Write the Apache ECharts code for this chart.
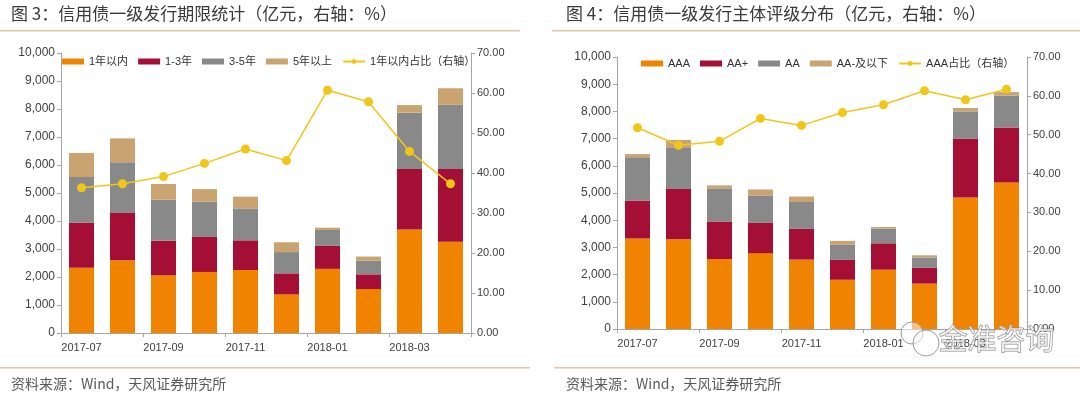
<!DOCTYPE html>
<html><head><meta charset="utf-8">
<script src="https://cdn.jsdelivr.net/npm/echarts@6/dist/echarts.min.js"></script>
<style>html,body{margin:0;padding:0;background:#fff}#c{width:1080px;height:393px}</style>
</head><body><div id="c"></div>
<script>
const categories = ['2017-07','2017-08','2017-09','2017-10','2017-11','2017-12','2018-01','2018-02','2018-03','2018-04'];
// Figure 3: issuance by maturity (亿元)
const under1y = [2330,2595,2060,2180,2250,1380,2290,1570,3700,3260];
const y1to3 = [1610,1690,1240,1250,1060,750,820,525,2160,2600];
const y3to5 = [1630,1810,1460,1260,1140,760,570,485,2010,2290];
const over5y = [860,855,560,450,420,350,80,150,270,590];
const under1yShare = [36.3,37.3,39.1,42.4,46.0,43.1,60.7,57.8,45.4,37.3];
// Figure 4: issuance by rating (亿元)
const ratingAAA = [3330,3300,2570,2790,2550,1810,2180,1670,4830,5390];
const ratingAAplus = [1390,1850,1380,1110,1130,730,970,580,2160,2020];
const ratingAA = [1590,1530,1220,1010,990,570,540,380,1010,1170];
const ratingAAminus = [120,270,110,220,200,130,60,80,125,130];
const aaaShare = [51.8,47.3,48.3,54.2,52.4,55.7,57.7,61.3,59.0,61.7];

const C_OR='#F08300', C_RED='#A50F36', C_GRAY='#898989', C_TAN='#C9A470', C_LINE='#F2C619';
const FONT='"Liberation Sans", Arial, "Noto Sans CJK SC", sans-serif';
const axisLineStyle={lineStyle:{color:'#A5A5A5',width:1}};
const txt='#404040';

function xAx(gi){return {type:'category',gridIndex:gi,data:categories,boundaryGap:true,
  axisLine:axisLineStyle,axisTick:{show:true,interval:1,length:4,lineStyle:{color:'#A5A5A5'}},
  axisLabel:{interval:1,color:txt,fontSize:11,fontFamily:FONT,margin:9}};}
function yL(gi){return {type:'value',gridIndex:gi,min:0,max:10000,interval:1000,position:'left',
  axisLine:Object.assign({show:true},axisLineStyle),axisTick:{show:true,length:4,lineStyle:{color:'#A5A5A5'}},splitLine:{show:false},
  axisLabel:{color:txt,fontSize:12,fontFamily:FONT,margin:6,formatter:v=>v.toLocaleString('en-US')}};}
function yR(gi){return {type:'value',gridIndex:gi,min:0,max:70,interval:10,position:'right',
  axisLine:Object.assign({show:true},axisLineStyle),axisTick:{show:true,length:4,lineStyle:{color:'#A5A5A5'}},splitLine:{show:false},
  axisLabel:{color:txt,fontSize:11,fontFamily:FONT,margin:6,formatter:v=>v.toFixed(2)}};}
function bar(name,data,color,xi,yi,stack){return {name,type:'bar',data,stack,xAxisIndex:xi,yAxisIndex:yi,barWidth:25,itemStyle:{color},animation:false};}
function line(name,data,xi,yi){return {name,type:'line',data,xAxisIndex:xi,yAxisIndex:yi,symbol:'circle',symbolSize:9,
  lineStyle:{color:C_LINE,width:1.5},itemStyle:{color:C_LINE},animation:false,z:5};}

const chart=echarts.init(document.getElementById('c'),null,{renderer:'canvas'});
chart.setOption({
  animation:false,
  backgroundColor:'#fff',
  grid:[{left:61,right:609,top:53,bottom:60},{left:617,right:53,top:57,bottom:64}],
  xAxis:[xAx(0),xAx(1)],
  yAxis:[yL(0),yR(0),yL(1),yR(1)],
  legend:[
    {left:57,top:51,itemWidth:22,itemHeight:6,itemGap:10,textStyle:{fontSize:11,fontFamily:FONT,color:'#333'},
     data:[{name:'1年以内',icon:'rect'},{name:'1-3年',icon:'rect'},{name:'3-5年',icon:'rect'},{name:'5年以上',icon:'rect'},{name:'1年以内占比（右轴）'}]},
    {left:636,top:53,itemWidth:22,itemHeight:6,itemGap:10,textStyle:{fontSize:11,fontFamily:FONT,color:'#333'},
     data:[{name:'AAA',icon:'rect'},{name:'AA+',icon:'rect'},{name:'AA',icon:'rect'},{name:'AA-及以下',icon:'rect'},{name:'AAA占比（右轴）'}]}
  ],
  series:[
    bar('1年以内',under1y,C_OR,0,0,'a'),
    bar('1-3年',y1to3,C_RED,0,0,'a'),
    bar('3-5年',y3to5,C_GRAY,0,0,'a'),
    bar('5年以上',over5y,C_TAN,0,0,'a'),
    line('1年以内占比（右轴）',under1yShare,0,1),
    bar('AAA',ratingAAA,C_OR,1,2,'b'),
    bar('AA+',ratingAAplus,C_RED,1,2,'b'),
    bar('AA',ratingAA,C_GRAY,1,2,'b'),
    bar('AA-及以下',ratingAAminus,C_TAN,1,2,'b'),
    line('AAA占比（右轴）',aaaShare,1,3)
  ],
  graphic:[
    {type:'text',left:11,top:5,style:{text:'图 3：信用债一级发行期限统计（亿元，右轴：%）',font:'17px "Noto Sans CJK SC", sans-serif',fill:'#3a3a3a'}},
    {type:'text',left:566,top:5,style:{text:'图 4：信用债一级发行主体评级分布（亿元，右轴：%）',font:'17px "Noto Sans CJK SC", sans-serif',fill:'#3a3a3a'}},
    {type:'rect',shape:{x:0,y:30,width:520,height:1.5},style:{fill:'#E6C4A2'}},
    {type:'rect',shape:{x:552,y:30,width:528,height:1.5},style:{fill:'#E6C4A2'}},
    {type:'rect',shape:{x:0,y:367,width:530,height:1.5},style:{fill:'#E6C4A2'}},
    {type:'rect',shape:{x:554,y:367,width:526,height:1.5},style:{fill:'#E6C4A2'}},
    {type:'text',left:11,top:377,style:{text:'资料来源：Wind，天风证券研究所',font:'14px "Noto Sans CJK SC", sans-serif',fill:'#595959'}},
    {type:'text',left:566,top:377,style:{text:'资料来源：Wind，天风证券研究所',font:'14px "Noto Sans CJK SC", sans-serif',fill:'#595959'}},
    {type:'circle',z:100,shape:{cx:912,cy:333,r:11},style:{fill:'rgba(255,255,255,0.5)',stroke:'#9a9a9a',lineWidth:1}},
    {type:'circle',z:100,shape:{cx:926,cy:343,r:13},style:{fill:'rgba(255,255,255,0.5)',stroke:'#9a9a9a',lineWidth:1}},
    {type:'text',left:938,top:324,z:100,style:{text:'金准咨询',font:'29px "Noto Sans CJK SC", sans-serif',fill:'rgba(255,255,255,0.6)',stroke:'#8a8a8a',lineWidth:1}}
  ]
});
</script></body></html>
